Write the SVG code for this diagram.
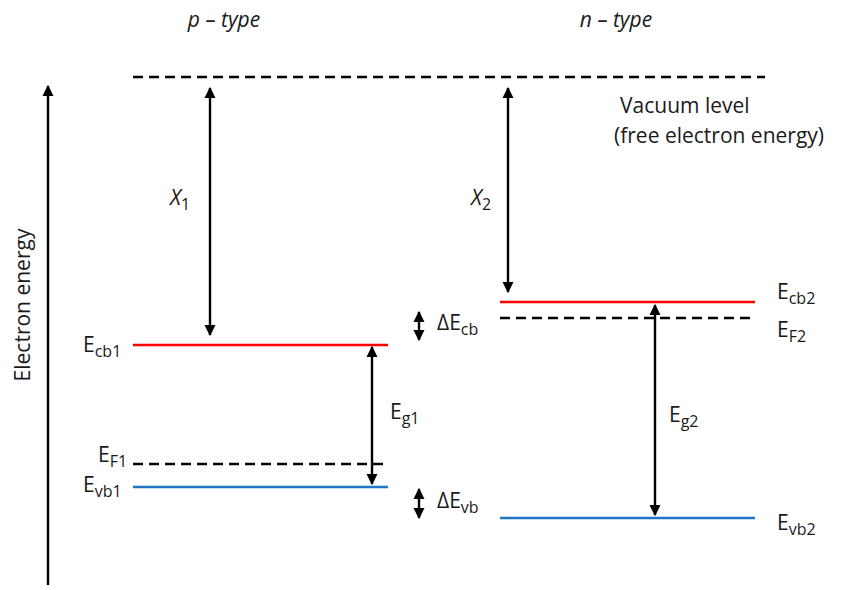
<svg xmlns="http://www.w3.org/2000/svg" width="843" height="590" viewBox="0 0 843 590">
<style>
text{font-family:"Open Sans","Liberation Sans",sans-serif;fill:#1a1a1a;font-size:21px}
.it{font-style:italic}
.sub{font-size:16px}
.arr{stroke:#000;stroke-width:2.4;fill:none}
.dash{stroke:#000;stroke-width:2.4;stroke-dasharray:10,6;fill:none}
.red{stroke:#ff0000;stroke-width:2.4;fill:none}
.blue{stroke:#1f77c4;stroke-width:2.4;fill:none}
</style>
<defs>
<marker id="ah" viewBox="0 0 10 10" refX="9" refY="5" markerWidth="4.6" markerHeight="4.6" orient="auto-start-reverse" markerUnits="strokeWidth">
<path d="M0,0 L10,5 L0,10 z" fill="#000"/>
</marker>
</defs>
<rect width="843" height="590" fill="#fff"/>
<g id="titles">
<text class="it" x="224" y="27" text-anchor="middle" font-size="24">p – type</text>
<text class="it" x="616" y="27" text-anchor="middle" font-size="24">n – type</text>
</g>
<g id="axis">
<line class="arr" x1="48" y1="585" x2="48" y2="86" marker-end="url(#ah)"/>
<text x="0" y="0" transform="translate(30,305) rotate(-90)" text-anchor="middle" font-size="22.5">Electron energy</text>
</g>
<g id="vacuum">
<line class="dash" x1="133" y1="77" x2="765" y2="77"/>
<text x="620" y="113" font-size="24">Vacuum level</text>
<text x="614" y="143" font-size="24">(free electron energy)</text>
</g>
<g id="p-levels">
<line class="red" x1="133" y1="345" x2="388" y2="345"/>
<line class="dash" x1="133" y1="464" x2="384" y2="464"/>
<line class="blue" x1="133" y1="487" x2="388" y2="487"/>
<text x="83" y="352">E<tspan class="sub" dy="5">cb1</tspan></text>
<text x="98" y="462">E<tspan class="sub" dy="5">F1</tspan></text>
<text x="83" y="492">E<tspan class="sub" dy="5">vb1</tspan></text>
</g>
<g id="n-levels">
<line class="red" x1="500" y1="302" x2="755" y2="302"/>
<line class="dash" x1="500" y1="318" x2="752" y2="318"/>
<line class="blue" x1="500" y1="518" x2="755" y2="518"/>
<text x="777" y="299">E<tspan class="sub" dy="5">cb2</tspan></text>
<text x="777" y="337">E<tspan class="sub" dy="5">F2</tspan></text>
<text x="777" y="530">E<tspan class="sub" dy="5">vb2</tspan></text>
</g>
<g id="connectors">
<line class="arr" x1="210" y1="88" x2="210" y2="335" marker-start="url(#ah)" marker-end="url(#ah)"/>
<line class="arr" x1="508" y1="88" x2="508" y2="292" marker-start="url(#ah)" marker-end="url(#ah)"/>
<line class="arr" x1="372" y1="347" x2="372" y2="484" marker-start="url(#ah)" marker-end="url(#ah)"/>
<line class="arr" x1="655" y1="305" x2="655" y2="515" marker-start="url(#ah)" marker-end="url(#ah)"/>
<line class="arr" x1="419" y1="312" x2="419" y2="340" marker-start="url(#ah)" marker-end="url(#ah)"/>
<line class="arr" x1="419" y1="489" x2="419" y2="518" marker-start="url(#ah)" marker-end="url(#ah)"/>
</g>
<g id="labels">
<text class="it" x="170" y="205" font-size="22">X<tspan class="sub" dy="5" font-style="normal">1</tspan></text>
<text class="it" x="471" y="205" font-size="22">X<tspan class="sub" dy="5" font-style="normal">2</tspan></text>
<text x="390" y="419">E<tspan class="sub" dy="5">g1</tspan></text>
<text x="669" y="422">E<tspan class="sub" dy="5">g2</tspan></text>
<text x="437" y="330">ΔE<tspan class="sub" dy="5">cb</tspan></text>
<text x="437" y="508">ΔE<tspan class="sub" dy="5">vb</tspan></text>
</g>
</svg>
